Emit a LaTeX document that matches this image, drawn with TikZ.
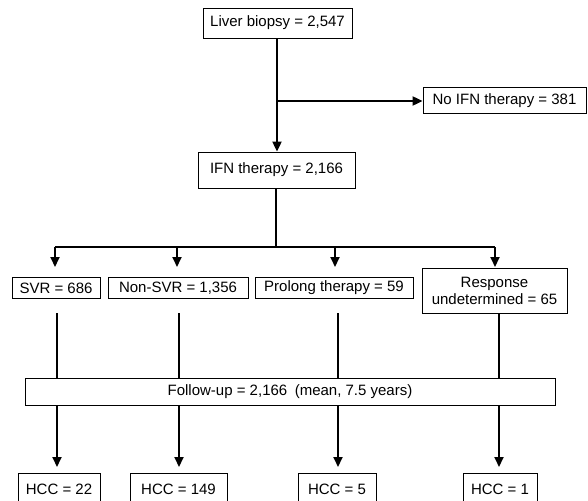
\documentclass[tikz,border=0pt]{standalone}
\usepackage{fontspec}
\setmainfont{Liberation Sans}
\usetikzlibrary{arrows.meta,calc}
\begin{document}
\begin{tikzpicture}[x=1pt,y=-1pt,
 box/.style={draw,line width=0.8pt,inner sep=0pt,font=\fontsize{15}{17}\selectfont,align=center},
 conn/.style={line width=1.9pt},
 arr/.style={conn,-{Triangle[length=10pt,width=9pt]}}]
\useasboundingbox (0,0) rectangle (588,500);
% nodes
\node[box,minimum width=149pt,minimum height=30pt] (liver) at (277.5,23) {Liver biopsy = 2,547};
\node[box,minimum width=163pt,minimum height=26pt] (noifn) at (504.5,100.5) {No IFN therapy = 381};
\node[box,minimum width=157pt,minimum height=36pt] (ifn) at (276.5,170) {IFN therapy = 2,166};
\node[box,minimum width=88pt,minimum height=21pt] (svr) at (56,288) {SVR = 686};
\node[box,minimum width=140pt,minimum height=21pt] (nonsvr) at (178,288) {Non-SVR = 1,356};
\node[box,minimum width=158pt,minimum height=21pt] (prolong) at (334,288) {Prolong therapy = 59};
\node[box,minimum width=145pt,minimum height=45pt] (resp) at (494.5,290.5) {Response\\undetermined = 65};
\node[box,minimum width=530pt,minimum height=27pt] (follow) at (290,391.5) {Follow-up = 2,166\enspace(mean, 7.5 years)};
\node[box,minimum width=82pt,minimum height=32pt,anchor=north] (h1) at (59,473) {HCC = 22};
\node[box,minimum width=97pt,minimum height=32pt,anchor=north] (h2) at (178.5,473) {HCC = 149};
\node[box,minimum width=78pt,minimum height=32pt,anchor=north] (h3) at (337,473) {HCC = 5};
\node[box,minimum width=74pt,minimum height=32pt,anchor=north] (h4) at (500,473) {HCC = 1};
% helper coordinates
\coordinate (br) at (277,101);
\coordinate (bar) at (276,247);
\coordinate (a1) at (55,267);
\coordinate (a2) at (177,267);
\coordinate (a3) at (335,267);
\coordinate (a4) at (495,267);
\coordinate (t1) at (57,313);
\coordinate (t2) at (179,313);
\coordinate (t3) at (338,313);
\coordinate (t4) at (499,313);
% connectors
\draw[arr] (liver.south -| br) -- (ifn.north -| br);
\draw[arr] (br) -- (noifn.west |- br);
\draw[conn] (ifn.south -| bar) -- (bar);
\draw[conn] (a1 |- bar) -- (a4 |- bar);
\draw[arr] (a1 |- bar) -- (a1);
\draw[arr] (a2 |- bar) -- (a2);
\draw[arr] (a3 |- bar) -- (a3);
\draw[arr] (a4 |- bar) -- (a4);
\draw[conn] (t1) -- (t1 |- follow.north);
\draw[conn] (t2) -- (t2 |- follow.north);
\draw[conn] (t3) -- (t3 |- follow.north);
\draw[conn] (t4) -- (t4 |- follow.north);
\draw[arr,shorten >=6pt] (t1 |- follow.south) -- (t1 |- h1.north);
\draw[arr,shorten >=6pt] (t2 |- follow.south) -- (t2 |- h2.north);
\draw[arr,shorten >=6pt] (t3 |- follow.south) -- (t3 |- h3.north);
\draw[arr,shorten >=6pt] (t4 |- follow.south) -- (t4 |- h4.north);
\end{tikzpicture}
\end{document}
